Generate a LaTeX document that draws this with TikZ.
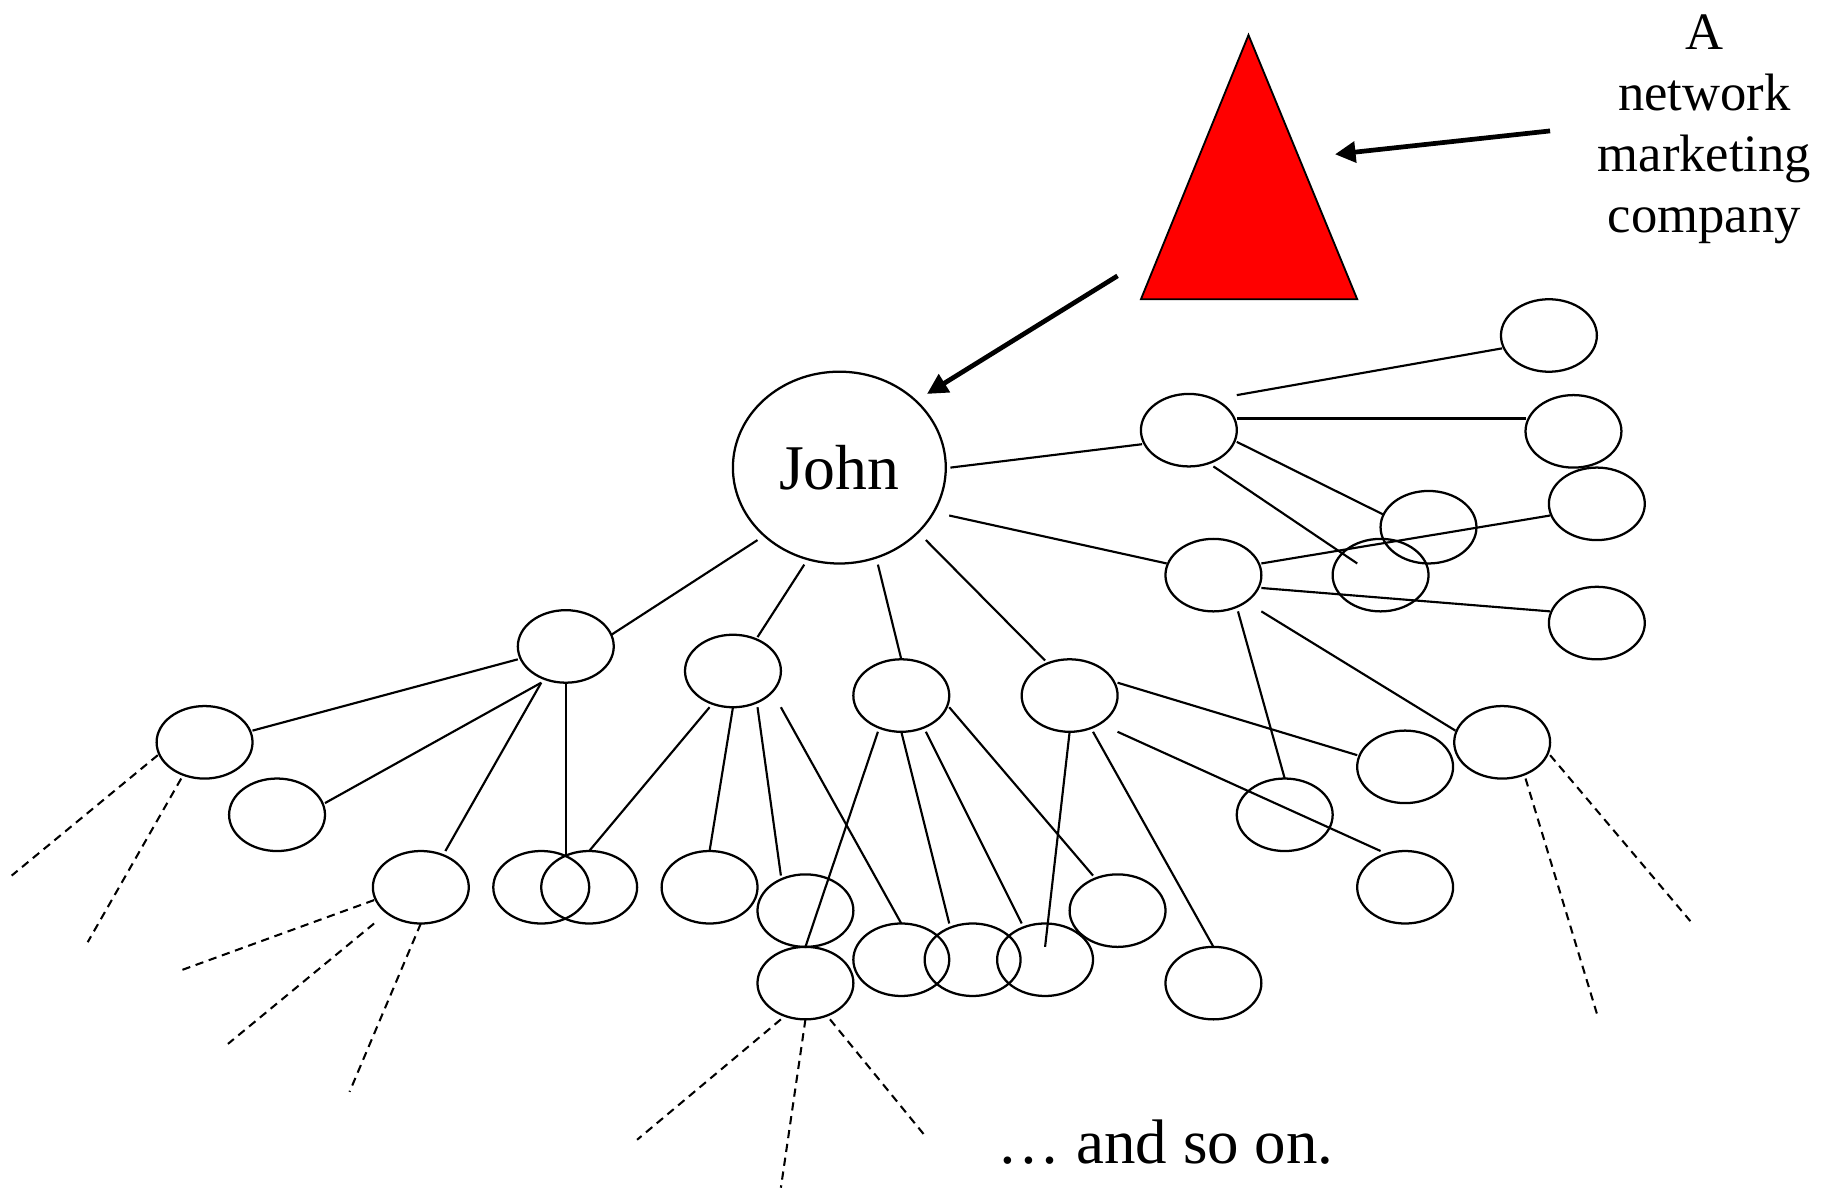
\documentclass[tikz,border=0pt]{standalone}
\usepackage{fontspec}
\setmainfont{Liberation Serif}
\usetikzlibrary{arrows.meta,shapes.geometric}

\tikzset{
  member/.style={ellipse, draw, line width=0.55pt, inner sep=0pt,
                 minimum width=0.82cm, minimum height=0.62cm},
  edge/.style={line width=0.52pt},
  onward/.style={line width=0.5pt, dash pattern=on 2pt off 1.4pt},
  pointer/.style={line width=1.15pt, -{Triangle[length=5pt,width=5pt]}},
}

\begin{document}
\begin{tikzpicture}[x=0.01cm, y=-0.01cm]
\useasboundingbox (0,0) rectangle (1568,1016);

% the company
\draw[line width=0.45pt, fill=red] (1068,30) -- (1161,256) -- (976,256) -- cycle;
\node[font=\fontsize{12.8}{14.8}\selectfont, align=center, inner sep=0pt, anchor=north]
  (label) at (1458,12) {A\\network\\marketing\\company};

% the recruiter
\node[ellipse, draw, line width=0.55pt, inner sep=0pt, minimum width=1.82cm,
      minimum height=1.64cm, font=\fontsize{15.5}{18}\selectfont] (John) at (718,400) {John};

% downline members
\node[member] (A1)  at (1017,368) {};
\node[member] (R1)  at (1325,287) {};
\node[member] (R2)  at (1346,369) {};
\node[member] (R3)  at (1366,431) {};
\node[member] (R4)  at (1222,451) {};
\node[member] (R5)  at (1181,492) {};
\node[member] (A2)  at (1038,492) {};
\node[member] (R6)  at (1366,533) {};
\node[member] (L1)  at (484,553) {};
\node[member] (L2)  at (627,574) {};
\node[member] (M1)  at (771,595) {};
\node[member] (M2)  at (915,595) {};
\node[member] (D1)  at (175,635) {};
\node[member] (RR)  at (1285,635) {};
\node[member] (E1)  at (1202,656) {};
\node[member] (D2)  at (237,697) {};
\node[member] (E2)  at (1099,697) {};
\node[member] (L1c) at (360,759) {};
\node[member] (L1d) at (463,759) {};
\node[member] (L1e) at (504,759) {};
\node[member] (L2a) at (607,759) {};
\node[member] (E3)  at (1202,759) {};
\node[member] (M1a) at (689,779) {};
\node[member] (M2b) at (956,779) {};
\node[member] (B1)  at (689,841) {};
\node[member] (B2)  at (771,821) {};
\node[member] (B3)  at (832,821) {};
\node[member] (B4)  at (894,821) {};
\node[member] (B5)  at (1038,841) {};

% arrows
\coordinate (labelTail) at (1326,112);
\coordinate (triSide)   at (1142,132);
\coordinate (triFoot)   at (956,236);
\draw[pointer] (labelTail) -- (triSide);
\draw[pointer] (triFoot) -- ([shift={(75,-63)}]John.center);

% John's recruits
\draw[edge] ([shift={(95,0)}]John.center)   -- ([shift={(-40,12)}]A1.center);
\draw[edge] ([shift={(94,41)}]John.center)  -- ([shift={(-40,-10)}]A2.center);
\draw[edge] ([shift={(-70,62)}]John.center) -- ([shift={(39,-10)}]L1.center);
\draw[edge] ([shift={(-30,83)}]John.center) -- ([shift={(21,-29)}]L2.center);
\draw[edge] ([shift={(33,83)}]John.center)  -- ([shift={(0,-31)}]M1.center);
\draw[edge] ([shift={(74,62)}]John.center)  -- ([shift={(-21,-30)}]M2.center);

% A1's recruits
\draw[edge] ([shift={(41,-30)}]A1.center) -- ([shift={(-40,11)}]R1.center);
\draw[edge] ([shift={(41,-10)}]A1.center) -- ([shift={(-41,-11)}]R2.center);
\draw[edge] ([shift={(41,10)}]A1.center)  -- ([shift={(-39,-11)}]R4.center);
\draw[edge] ([shift={(21,31)}]A1.center)  -- ([shift={(-20,-10)}]R5.center);

% A2's recruits
\draw[edge] ([shift={(41,-10)}]A2.center) -- ([shift={(-40,10)}]R3.center);
\draw[edge] ([shift={(41,11)}]A2.center)  -- ([shift={(-40,-10)}]R6.center);
\draw[edge] ([shift={(21,31)}]A2.center)  -- ([shift={(0,-31)}]E2.center);
\draw[edge] ([shift={(41,31)}]A2.center)  -- ([shift={(-40,-10)}]RR.center);

% L1's recruits
\draw[edge] ([shift={(-41,11)}]L1.center) -- ([shift={(41,-10)}]D1.center);
\draw[edge] ([shift={(-21,31)}]L1.center) -- ([shift={(41,-10)}]D2.center);
\draw[edge] ([shift={(-21,31)}]L1.center) -- ([shift={(21,-31)}]L1c.center);
\draw[edge] ([shift={(0,31)}]L1.center)   -- ([shift={(21,-27)}]L1d.center);

% L2's recruits
\draw[edge] ([shift={(-20,31)}]L2.center) -- ([shift={(0,-31)}]L1e.center);
\draw[edge] ([shift={(0,31)}]L2.center)   -- ([shift={(0,-31)}]L2a.center);
\draw[edge] ([shift={(21,31)}]L2.center)  -- ([shift={(-21,-30)}]M1a.center);
\draw[edge] ([shift={(41,31)}]L2.center)  -- ([shift={(0,-31)}]B2.center);

% M1's recruits
\draw[edge] ([shift={(-20,31)}]M1.center) -- ([shift={(0,-31)}]B1.center);
\draw[edge] ([shift={(0,31)}]M1.center)   -- ([shift={(-20,-31)}]B3.center);
\draw[edge] ([shift={(21,31)}]M1.center)  -- ([shift={(-20,-31)}]B4.center);
\draw[edge] ([shift={(41,10)}]M1.center)  -- ([shift={(-21,-30)}]M2b.center);

% M2's recruits
\draw[edge] ([shift={(41,-11)}]M2.center) -- ([shift={(-41,-10)}]E1.center);
\draw[edge] ([shift={(41,31)}]M2.center)  -- ([shift={(-21,-31)}]E3.center);
\draw[edge] ([shift={(0,31)}]M2.center)   -- ([shift={(0,-11)}]B4.center);
\draw[edge] ([shift={(20,31)}]M2.center)  -- ([shift={(0,-31)}]B5.center);

% the network keeps growing
\coordinate (d1a) at (10,749);
\coordinate (d1b) at (75,806);
\coordinate (cca) at (155,830);
\coordinate (ccb) at (195,893);
\coordinate (ccc) at (299,934);
\coordinate (b1a) at (545,975);
\coordinate (b1b) at (668,1016);
\coordinate (b1c) at (790,970);
\coordinate (rra) at (1366,867);
\coordinate (rrb) at (1446,788);
\draw[onward] ([shift={(-40,11)}]D1.center)  -- (d1a);
\draw[onward] ([shift={(-20,31)}]D1.center)  -- (d1b);
\draw[onward] ([shift={(-40,11)}]L1c.center) -- (cca);
\draw[onward] ([shift={(-40,31)}]L1c.center) -- (ccb);
\draw[onward] ([shift={(0,31)}]L1c.center)   -- (ccc);
\draw[onward] ([shift={(-21,31)}]B1.center)  -- (b1a);
\draw[onward] ([shift={(0,31)}]B1.center)    -- (b1b);
\draw[onward] ([shift={(21,31)}]B1.center)   -- (b1c);
\draw[onward] ([shift={(20,31)}]RR.center)   -- (rra);
\draw[onward] ([shift={(41,11)}]RR.center)   -- (rrb);

\node[font=\fontsize{15.3}{18}\selectfont, inner sep=0pt, anchor=base west]
  (more) at (853,995) {… and so on.};
\end{tikzpicture}
\end{document}
